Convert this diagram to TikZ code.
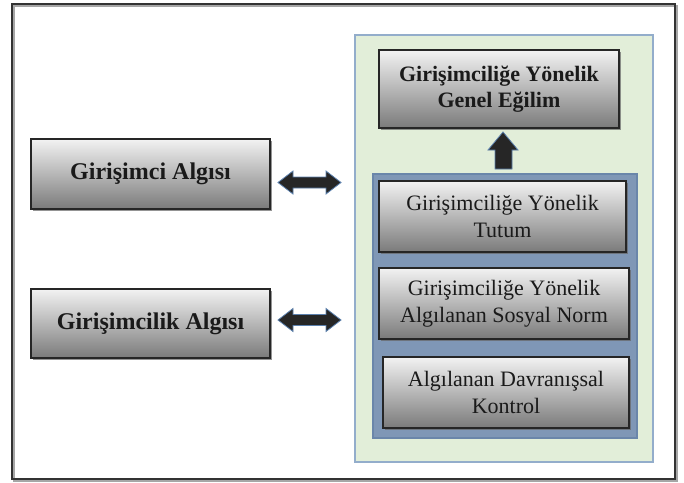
\documentclass[tikz,border=0pt]{standalone}
\usepackage{fontspec}
\setmainfont{Liberation Serif}
\usetikzlibrary{shadows}
\definecolor{txt}{HTML}{1A1A1A}
\definecolor{greenfill}{HTML}{E2EED9}
\definecolor{greenline}{HTML}{93ADCB}
\definecolor{bluefill}{HTML}{7F97B6}
\definecolor{blueline}{HTML}{6A86AA}
\definecolor{arrowfill}{HTML}{262626}
\definecolor{arrowline}{HTML}{5B80AD}
\tikzset{
  gradbox/.style={rectangle, draw=black!85, line width=1.1pt,
    top color=white!95!black, bottom color=black!52,
    drop shadow={shadow xshift=1.6pt, shadow yshift=-1.6pt, fill=black!60, opacity=0.7},
    text=txt, align=center, inner sep=0pt},
  leftbox/.style={gradbox, minimum width=239pt, minimum height=69pt,
    font=\fontsize{24}{28}\selectfont\bfseries},
  topbox/.style={gradbox, minimum width=240pt, minimum height=78pt,
    font=\fontsize{22}{26.5}\selectfont\bfseries},
  innerbox/.style={gradbox, minimum height=71pt,
    font=\fontsize{22}{26.5}\selectfont},
  blockarrow/.style={fill=arrowfill, draw=arrowline, line width=0.8pt, line join=miter},
  pics/dblarr/.style={code={
    \draw[blockarrow] (-31.5,0) -- (-16.5,-11.5) -- (-16.5,-5.5) -- (16.5,-5.5)
      -- (16.5,-11.5) -- (31.5,0) -- (16.5,11.5) -- (16.5,5.5) -- (-16.5,5.5)
      -- (-16.5,11.5) -- cycle;}}
}
\begin{document}
\begin{tikzpicture}[x=1pt,y=-1pt]
\useasboundingbox (0,0) rectangle (684,482);
% outer frame
\draw[black!35, line width=1.6pt] (14,6) rectangle (677,481);
\draw[black!80, line width=1.3pt] (12,4) rectangle (675,479);
% green container
\node[rectangle, draw=greenline, fill=greenfill, line width=2pt,
  minimum width=298pt, minimum height=427pt, inner sep=0pt] (green) at (504,248) {};
% blue container
\node[rectangle, draw=blueline, fill=bluefill, line width=2pt,
  minimum width=264pt, minimum height=264pt, inner sep=0pt] (blue) at (505,306) {};
% top box
\node[topbox] (gen) at (499,89) {Girişimciliğe Yönelik\\Genel Eğilim};
% inner boxes
\node[innerbox, minimum width=247pt] (tut) at (502.5,216.5) {Girişimciliğe Yönelik\\Tutum};
\node[innerbox, minimum width=250pt] (norm) at (504,303.5) {Girişimciliğe Yönelik\\Algılanan Sosyal Norm};
\node[innerbox, minimum width=246pt] (kont) at (506,392.5) {Algılanan Davranışsal\\Kontrol};
% left boxes
\node[leftbox, minimum height=70pt] (ga) at (150.5,174) {Girişimci Algısı};
\node[leftbox] (gla) at (150.5,323.5) {Girişimcilik Algısı};
% double arrows
\pic at (309.5,182.5) {dblarr};
\pic at (309.5,320) {dblarr};
% up arrow
\draw[blockarrow] (503,132) -- (518,150) -- (512,150) -- (512,169) -- (495,169)
  -- (495,150) -- (488,150) -- cycle;
\end{tikzpicture}
\end{document}
